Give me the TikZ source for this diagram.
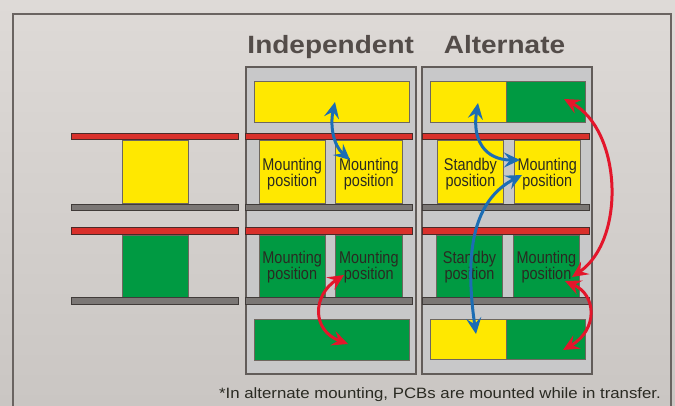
\documentclass[tikz,border=0pt]{standalone}
\usepackage{fontspec}
\setmainfont{Liberation Sans}
\newfontfamily\titlefont{Liberation Sans}[FakeStretch=1.12]
\newfontfamily\boxfont{Liberation Sans}[FakeStretch=0.85]
\newfontfamily\notefont{Liberation Sans}[FakeStretch=1.12]
\usetikzlibrary{arrows.meta}
\definecolor{bgtop}{HTML}{DEDAD7}
\definecolor{bgbot}{HTML}{CAC6C3}
\definecolor{frameline}{HTML}{6A6461}
\definecolor{panelfill}{HTML}{C8C8C9}
\definecolor{panelline}{HTML}{625C59}
\definecolor{pcbyellow}{HTML}{FFE800}
\definecolor{pcbgreen}{HTML}{009A42}
\definecolor{boxline}{HTML}{6E675F}
\definecolor{barred}{HTML}{D9302B}
\definecolor{redline}{HTML}{4A2A28}
\definecolor{bargray}{HTML}{7B7775}
\definecolor{grayline}{HTML}{403B39}
\definecolor{titlegray}{HTML}{534C49}
\definecolor{lbltext}{HTML}{2A2A22}
\definecolor{arrblue}{HTML}{1C6DB4}
\definecolor{arrred}{HTML}{E3162B}
\newcommand{\rectnode}[6]{\node[#2, minimum width={#5pt-#3pt}, minimum height={#6pt-#4pt}] (#1) at (#3,#4) {};}
\begin{document}
\begin{tikzpicture}[x=1pt,y=-1pt,
  rbase/.style={inner sep=0pt, outer sep=0pt, anchor=north west},
  panel/.style={rbase, draw=panelline, fill=panelfill, line width=2pt},
  ybox/.style={rbase, draw=boxline, fill=pcbyellow, line width=0.8pt},
  gbox/.style={rbase, draw=boxline, fill=pcbgreen, line width=0.8pt},
  redbar/.style={rbase, draw=redline, fill=barred, line width=0.9pt},
  graybar/.style={rbase, draw=grayline, fill=bargray, line width=0.9pt},
  lbl/.style={font=\boxfont\fontsize{17}{16}\selectfont, align=center, text=lbltext, inner sep=0pt},
  title/.style={font=\titlefont\bfseries\fontsize{25}{30}\selectfont, text=titlegray, anchor=base, inner sep=0pt},
  note/.style={font=\notefont\fontsize{15}{18}\selectfont, text=lbltext, anchor=base, inner sep=0pt},
  arr/.style={line width=3pt, arrows={Stealth[length=16pt,width=15pt,inset=6pt]-Stealth[length=16pt,width=15pt,inset=6pt]}}
]
\useasboundingbox (0,0) rectangle (675,405);
\shade[top color=bgtop, bottom color=bgbot] (0,0) rectangle (675,405);
\draw[frameline, line width=1.5pt] (13,420) -- (13,14) -- (671,14) -- (671,420);

% titles
\node[title] (tind) at (330.7,53.3) {Independent};
\node[title] (talt) at (504.5,53.3) {Alternate};

% panels
\rectnode{pind}{panel}{246}{67}{416}{374}
\rectnode{palt}{panel}{422.3}{67}{592.3}{374}

% left column boxes
\rectnode{ly}{ybox}{122.5}{140.5}{188.2}{203.5}
\rectnode{lg}{gbox}{122.5}{235.5}{188.2}{297}

% independent boxes
\rectnode{itop}{ybox}{254.3}{81.7}{409}{122.3}
\rectnode{iy1}{ybox}{259.3}{140}{325}{203.7}
\rectnode{iy2}{ybox}{335.7}{140}{402}{203.7}
\rectnode{ig1}{gbox}{259.3}{235}{325}{297.3}
\rectnode{ig2}{gbox}{335.7}{235}{402}{297.3}
\rectnode{ibot}{gbox}{254.3}{319}{409}{360}

% alternate boxes
\rectnode{atopy}{ybox}{430.3}{81.7}{506.7}{122.3}
\rectnode{atopg}{gbox}{506.7}{81.7}{585}{122.3}
\rectnode{ay1}{ybox}{437.5}{140}{503.3}{203.7}
\rectnode{ay2}{ybox}{514.3}{140}{580.3}{203.7}
\rectnode{ag1}{gbox}{436.5}{235}{502.5}{297.3}
\rectnode{ag2}{gbox}{513.3}{235}{579.5}{297.3}
\rectnode{aboty}{ybox}{430.3}{319}{506.7}{359.5}
\rectnode{abotg}{gbox}{506.7}{319}{585}{359.5}

% bars
\rectnode{lr1}{redbar}{71.5}{133.3}{238.8}{139.8}
\rectnode{lk1}{graybar}{71.5}{204}{238.8}{210.7}
\rectnode{lr2}{redbar}{71.5}{227.5}{238.8}{234}
\rectnode{lk2}{graybar}{71.5}{297.7}{238.8}{304.3}
\rectnode{ir1}{redbar}{245.5}{133.3}{412.7}{139.8}
\rectnode{ik1}{graybar}{245.5}{204}{412.7}{210.7}
\rectnode{ir2}{redbar}{245.5}{227.5}{412.7}{234}
\rectnode{ik2}{graybar}{245.5}{297.7}{412.7}{304.3}
\rectnode{ar1}{redbar}{422}{133.3}{589}{139.8}
\rectnode{ak1}{graybar}{422}{204}{589}{210.7}
\rectnode{ar2}{redbar}{422}{227.5}{589}{234}
\rectnode{ak2}{graybar}{422}{297.7}{589}{304.3}

% labels
\node[lbl] (liy1) at ([yshift=-2pt]iy1.center) {Mounting\\position};
\node[lbl] (liy2) at ([yshift=-2pt]iy2.center) {Mounting\\position};
\node[lbl] (lig1) at ([yshift=-1pt]ig1.center) {Mounting\\position};
\node[lbl] (lig2) at ([yshift=-1pt]ig2.center) {Mounting\\position};
\node[lbl] (lay1) at ([yshift=-2pt]ay1.center) {Standby\\position};
\node[lbl] (lay2) at ([yshift=-2pt]ay2.center) {Mounting\\position};
\node[lbl] (lag1) at ([yshift=-1pt]ag1.center) {Standby\\position};
\node[lbl] (lag2) at ([yshift=-1pt]ag2.center) {Mounting\\position};

% footnote
\node[note] (fn) at (440,398.3) {*In alternate mounting, PCBs are mounted while in transfer.};

% arrow end points
\coordinate (b1s) at (335,102);
\coordinate (b1e) at (350,160);
\coordinate (r1s) at (344,275);
\coordinate (r1e) at (348,344);
\coordinate (b2s) at (478,103);
\coordinate (b2e) at (520,160);
\coordinate (b3s) at (476,334);
\coordinate (b3e) at (522,175);
\coordinate (r2s) at (564,99);
\coordinate (r2e) at (572,277);
\coordinate (r3s) at (565,281);
\coordinate (r3e) at (563,350);

% arrows
\draw[arr, arrblue] (b1s) .. controls (330,125) and (333,145) .. (b1e);
\draw[arr, arrred] (r1s) .. controls (313,295) and (311,330) .. (r1e);
\draw[arr, arrblue] (b2s) .. controls (472,140) and (485,160) .. (b2e);
\draw[arr, arrblue] (b3s) .. controls (464,250) and (474,200) .. (b3e);
\draw[arr, arrred] (r2s) .. controls (622,130) and (626,240) .. (r2e);
\draw[arr, arrred] (r3s) .. controls (597,295) and (598,330) .. (r3e);
\end{tikzpicture}
\end{document}
